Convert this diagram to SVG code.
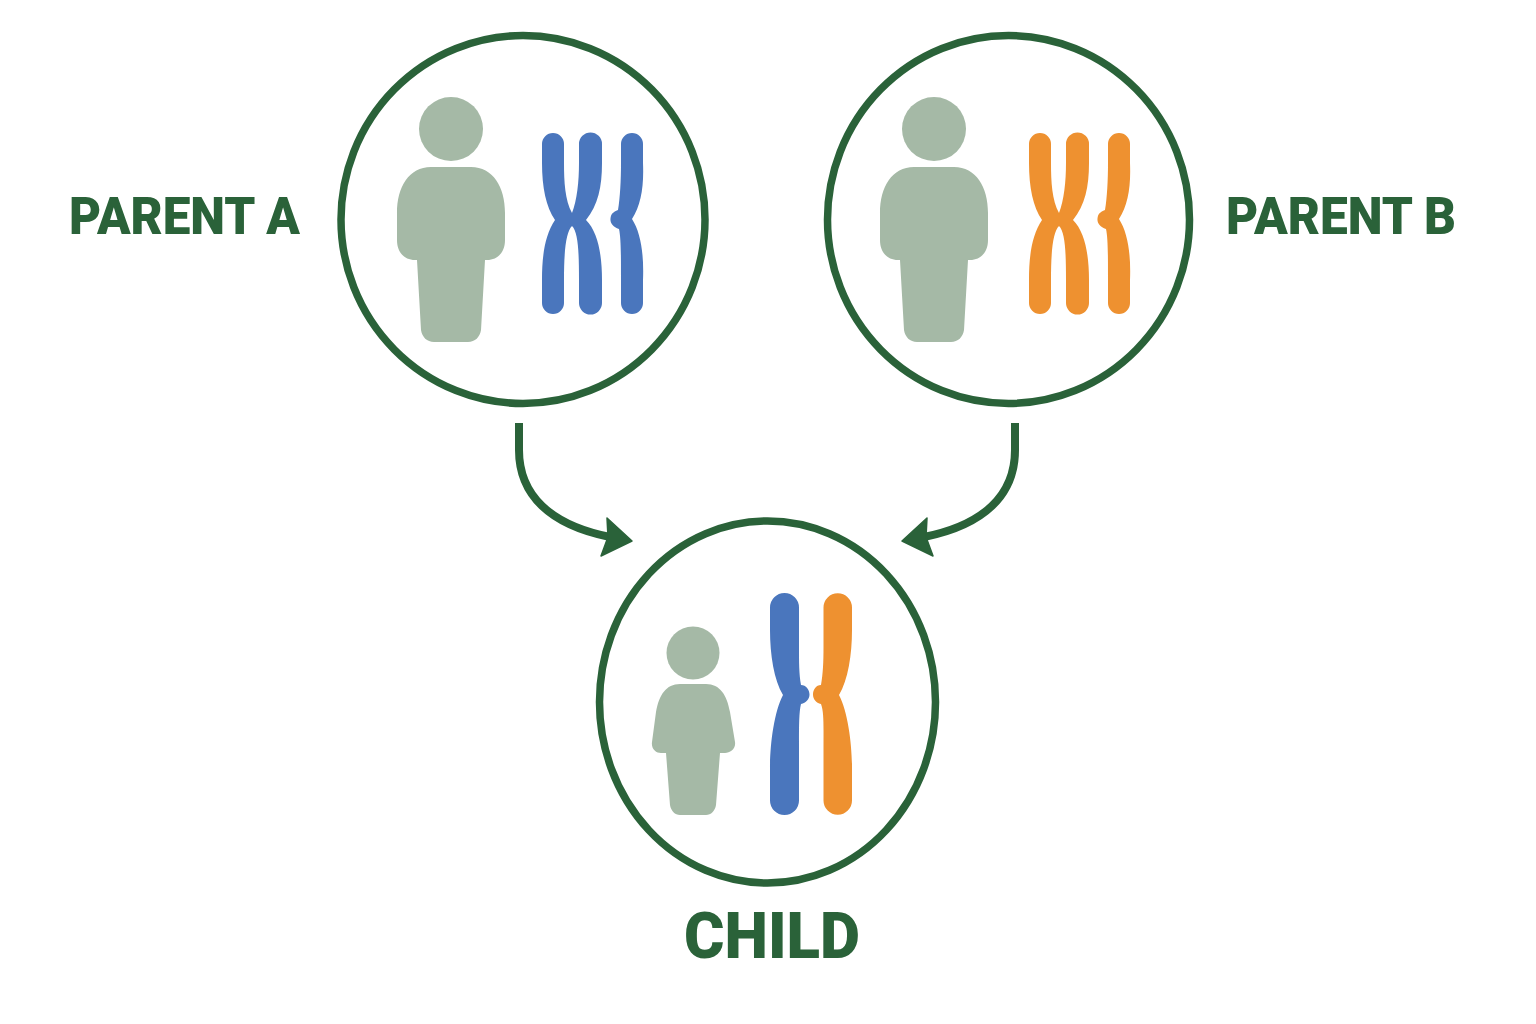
<svg xmlns="http://www.w3.org/2000/svg" width="1536" height="1024" viewBox="0 0 1536 1024">
<style>
.ring{fill:#fff;stroke:#2a6239;stroke-width:7.500}
.person{fill:#a5b9a6}
.blue{fill:#4a76bd}
.orange{fill:#ee9130}
.lab{font-family:Roboto,"Liberation Sans",sans-serif;font-weight:900;fill:#2a6239}
.conn{fill:none;stroke:#2a6239;stroke-width:8}
.head{fill:#2a6239;stroke:#2a6239;stroke-width:1.500;stroke-linejoin:round}
</style>
<defs>
<g id="bigperson">
<circle cx="451" cy="129" r="32"/>
<path d="M431 167H471C493 167 505 187 505 213V240C505 252 498 260 487 260H485L481 330C480 337 475 342 468 342H434C427 342 422 337 421 330L417 260H415C404 260 397 252 397 240V213C397 187 409 167 431 167Z"/>
</g>
<g id="bigchromo">
<path d="M542 144A11 11 0 0 1 564 144V163C564 182 565 200 572 213C577 200 579 182 579 163V144A11.500 11.500 0 0 1 602 144V163C602 187 598 205 586 220C598 232 602 255 602 280V303A11.500 11.500 0 0 1 579 303V280C579 250 578 232 572 226C566 232 564 250 564 280V303A11 11 0 0 1 542 303V280C542 255 545 235 555 220C546 207 542 187 542 163Z"/>
<path d="M621 144A11 11 0 0 1 643 144V163C644 187 641 205 632 219C641 233 644 255 643 280V303A11 11 0 0 1 621 303V280C621 255 621 238 619 229C613 227 610 223 610.500 218.500C611 214 613 212 618 210C620 198 621 180 621 163Z"/>
</g>
</defs>
<rect width="1536" height="1024" fill="#fff"/>
<g id="connectors">
<path class="conn" d="M519 423V450C519 495 550 525 610 537"/>
<path class="head" d="M607 518L632 541L601 556L608 537Z"/>
<path class="conn" d="M1015 423V450C1015 495 984 525 924 537"/>
<path class="head" d="M927 518L902 541L933 556L926 537Z"/>
</g>
<g id="parent-a">
<ellipse class="ring" cx="523" cy="219.500" rx="182" ry="184"/>
<use href="#bigperson" class="person"/>
<use href="#bigchromo" class="blue"/>
<text class="lab" x="69" y="234" font-size="52" textLength="231" lengthAdjust="spacingAndGlyphs">PARENT A</text>
</g>
<g id="parent-b">
<ellipse class="ring" cx="1008.500" cy="219.500" rx="181" ry="184"/>
<use href="#bigperson" class="person" x="483"/>
<use href="#bigchromo" class="orange" x="487"/>
<text class="lab" x="1226" y="234" font-size="52" textLength="230" lengthAdjust="spacingAndGlyphs">PARENT B</text>
</g>
<g id="child">
<ellipse class="ring" cx="767.500" cy="702" rx="168" ry="181"/>
<circle class="person" cx="693" cy="653" r="26.500"/>
<path class="person" d="M680 684H706C720 684 727 695 730 712L735 742C736 749 730 753 725 753H720L716 805C715 811 711 815 706 815H680C675 815 671 811 670 805L666 753H661C656 753 651 749 652 742L656 712C659 695 666 684 680 684Z"/>
<path class="blue" d="M770 607.500A14.500 14.500 0 0 1 799 607.500V647C799 662 799 674 801 685C806 685 809.500 690 809.500 694.500C809.500 699 806 703 801 704C799 712 799 725 799 745V800.500A14.500 14.500 0 0 1 770 800.500V767C770 745 774 712 783 695C774 680 770 655 770 630Z"/>
<path class="orange" d="M823.500 607.500A14.250 14.250 0 0 1 852 607.500V630C852 655 848 680 839 695C848 712 852 745 852 767V800.500A14.250 14.250 0 0 1 823.500 800.500V745C823.500 725 824 712 821 704C816 703 813 699 813 694.500C813 690 816 685 821 685C823 674 823.500 662 823.500 647Z"/>
<text class="lab" x="684" y="958" font-size="64" textLength="176" lengthAdjust="spacingAndGlyphs">CHILD</text>
</g>
</svg>
